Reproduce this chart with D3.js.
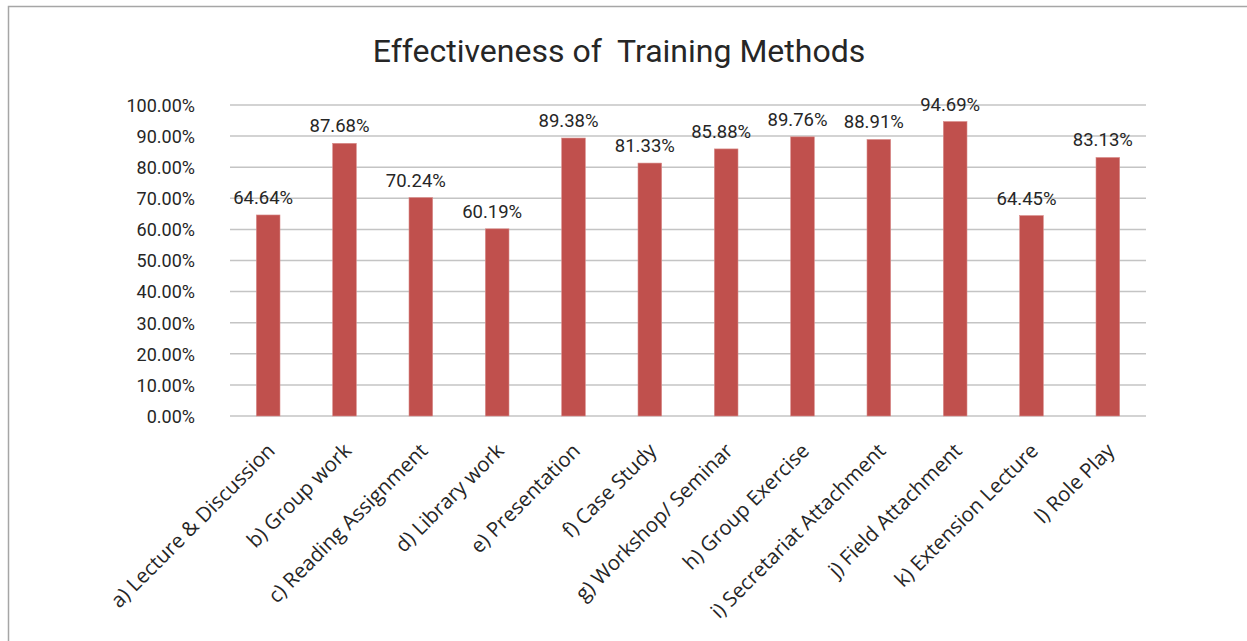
<!DOCTYPE html>
<html><head><meta charset="utf-8">
<script src="https://cdn.jsdelivr.net/npm/d3@7"></script>
<style>body{margin:0;background:#fff;} svg{display:block;}</style>
</head><body>
<svg id="c" width="1247" height="641"></svg>
<script>
const categories = ["a) Lecture & Discussion","b) Group work","c) Reading Assignment","d) Library work","e) Presentation","f) Case Study","g) Workshop/ Seminar","h) Group Exercise","i) Secretariat Attachment","j) Field Attachment","k) Extension Lecture","l) Role Play"];
const values = [64.64,87.68,70.24,60.19,89.38,81.33,85.88,89.76,88.91,94.69,64.45,83.13];
const yTicks = [0,10,20,30,40,50,60,70,80,90,100];
const title = "Effectiveness of  Training Methods";

const svg = d3.select("#c");
const W = 1247, H = 641;
svg.append("rect").attr("x",8.5).attr("y",6.5).attr("width",W).attr("height",H).attr("fill","#fff").attr("stroke","#a6a6a6").attr("stroke-width",1.5);

const m = {left:230, right:1146, top:105, bottom:416};
const x = d3.scaleBand().domain(categories).range([m.left,m.right]).paddingInner(0.69).paddingOuter(0.345);
const y = d3.scaleLinear().domain([0,100]).range([m.bottom,m.top]);
const numFont = "Roboto, 'DejaVu Sans', sans-serif";

// gridlines
svg.append("g").selectAll("line").data(yTicks).join("line")
  .attr("x1",m.left).attr("x2",m.right)
  .attr("y1",d=>y(d)).attr("y2",d=>y(d))
  .attr("stroke","#c4c4c4").attr("stroke-width",1.5);

// y axis labels
const yAxis = d3.axisLeft(y).tickValues(yTicks).tickSize(0).tickPadding(0).tickFormat(d=>d.toFixed(2)+"%");
const ya = svg.append("g").attr("transform",`translate(${m.left-35},0)`).call(yAxis);
ya.select(".domain").remove();
ya.selectAll("text").attr("font-family",numFont).attr("font-size",18).attr("fill","#262626").attr("dy","0.35em");

// bars
svg.append("g").selectAll("rect").data(values).join("rect")
  .attr("x",(d,i)=>x(categories[i])).attr("width",x.bandwidth())
  .attr("y",d=>y(d)).attr("height",d=>y(0)-y(d))
  .attr("fill","#C0504D").attr("stroke","#d98e8c").attr("stroke-width",0.6);

// value labels
svg.append("g").selectAll("text").data(values).join("text")
  .attr("x",(d,i)=>x(categories[i])+x.bandwidth()/2-5).attr("y",d=>y(d)-11)
  .attr("text-anchor","middle").attr("font-family",numFont).attr("font-size",18.5)
  .attr("fill","#262626").text(d=>d.toFixed(2)+"%");

// x axis labels
const xAxis = d3.axisBottom(x).tickSize(0).tickPadding(0);
const xa = svg.append("g").attr("transform",`translate(0,${m.bottom})`).call(xAxis);
xa.select(".domain").remove();
xa.selectAll("text").attr("font-family","'Open Sans', sans-serif").attr("font-size",20.5).attr("fill","#262626")
  .attr("text-anchor","end").attr("dy",null)
  .attr("transform","translate(8,36) rotate(-45)");

// title
svg.append("text").attr("x",619).attr("y",62).attr("text-anchor","middle")
  .attr("font-family",numFont).attr("font-size",32).attr("fill","#262626").style("white-space","pre").text(title);
</script>
</body></html>
